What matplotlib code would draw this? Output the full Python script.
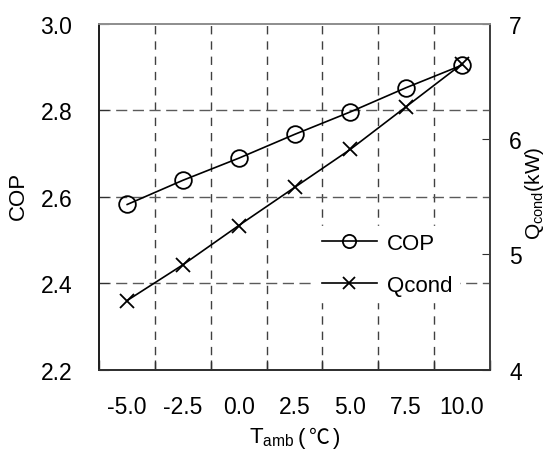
import matplotlib
matplotlib.use("Agg")
import matplotlib.pyplot as plt
import numpy as np
from matplotlib.offsetbox import TextArea, HPacker, AnchoredOffsetbox
from matplotlib.lines import Line2D

plt.rcParams['font.family'] = ['Liberation Sans', 'DejaVu Sans']
plt.rcParams['mathtext.fontset'] = 'custom'
plt.rcParams['mathtext.rm'] = 'Liberation Sans'
plt.rcParams['mathtext.it'] = 'Liberation Sans'

# ---- data ----
categories = ['-5.0', '-2.5', '0.0', '2.5', '5.0', '7.5', '10.0']
cop = [2.582, 2.638, 2.689, 2.744, 2.796, 2.852, 2.904]
qcond = [4.60, 4.91, 5.25, 5.58, 5.91, 6.28, 6.65]
left_ticks = [2.2, 2.4, 2.6, 2.8, 3.0]
right_ticks = [4, 5, 6, 7]

W, H = 550, 452
fig = plt.figure(figsize=(W / 100, H / 100), dpi=100)
L, R, T, B = 99.3, 489.7, 24.7, 370.7
ax = fig.add_axes([L / W, (H - B) / H, (R - L) / W, (B - T) / H])
ax2 = ax.twinx()

x = np.arange(len(categories))
FS = 16.5

# grid
for xb in x[:-1] + 0.5:
    ax.axvline(xb, color='#404040', lw=1.0, ls=(0, (6, 5)), zorder=1)
for yv in [2.4, 2.6, 2.8]:
    ax.axhline(yv, color='#5a5a5a', lw=1.0, ls=(0, (8, 4)), zorder=1)

l1, = ax.plot(x, cop, color='black', lw=1.2, marker='o', ms=12, mfc='none',
              mec='black', mew=1.3, zorder=3)
l2, = ax2.plot(x, qcond, color='black', lw=1.2, marker='x', ms=10,
               mec='black', mew=1.3, zorder=3)

ax.set_xlim(-0.5, len(categories) - 0.5)
ax.set_ylim(2.2, 3.0)
ax2.set_ylim(4, 7)

ax.set_xticks(x)
ax.set_xticklabels(categories)
ax.set_xticks(np.arange(-0.5, len(categories)), minor=True)
ax.tick_params(axis='x', which='major', length=0, pad=18.5, labelsize=FS)
ax.tick_params(axis='x', which='minor', direction='in', length=7, width=1, color='#303030')
ax.set_yticks(left_ticks)
ax.set_yticklabels([f'{v:.1f}' for v in left_ticks])
ax.tick_params(axis='y', direction='in', length=7, pad=19.5, labelsize=FS, color='#303030')
ax2.set_yticks(right_ticks)
ax2.tick_params(axis='y', direction='in', length=6, pad=14, labelsize=FS, color='#303030')

for a in (ax, ax2):
    a.spines['left'].set_color('#202020')
    a.spines['bottom'].set_color('#303030')
    a.spines['right'].set_color('#404040')
    a.spines['top'].set_color('#909090')
    for s in a.spines.values():
        s.set_linewidth(1.3)

ax.set_ylabel('COP', fontsize=16, va='center')
ax.yaxis.set_label_coords((18 - L) / (R - L), (B - 196) / (B - T))
ax2.set_ylabel(r'Q$_{\mathregular{cond}}$(kW)', fontsize=15, va='center')
ax2.yaxis.set_label_coords((535 - L) / (R - L), (B - 193) / (B - T))

# x label: T_amb (℃)
ta1 = TextArea(r'T$_{\mathregular{amb}}$', textprops=dict(fontsize=16))
ta2 = TextArea('(', textprops=dict(fontsize=16))
ta3 = TextArea('℃', textprops=dict(fontsize=15, family=['Noto Sans CJK SC', 'DejaVu Sans']))
ta4 = TextArea(')', textprops=dict(fontsize=16))
box = HPacker(children=[ta1, ta2, ta3, ta4], align='baseline', pad=0, sep=2.5)
anch = AnchoredOffsetbox(loc='center', child=box, pad=0, borderpad=0, frameon=False,
                         bbox_to_anchor=((L + R) / 2 / W, (H - 438) / H),
                         bbox_transform=fig.transFigure)
fig.add_artist(anch)

# legend
h1 = Line2D([], [], color='black', lw=1.2, marker='o', ms=9.5, mfc='none', mew=1.3)
h2 = Line2D([], [], color='black', lw=1.2, marker='x', ms=9, mew=1.3)
leg = ax2.legend([h1, h2], ['COP', 'Qcond'], loc='upper left',
                 bbox_to_anchor=((315 - L) / (R - L), (B - 227) / (B - T)),
                 frameon=True, fancybox=False, framealpha=1, edgecolor='white',
                 fontsize=16, handlelength=2.5, handletextpad=0.42,
                 labelspacing=0.95, borderpad=0.3, borderaxespad=0)

fig.savefig('out.png', dpi=100)
